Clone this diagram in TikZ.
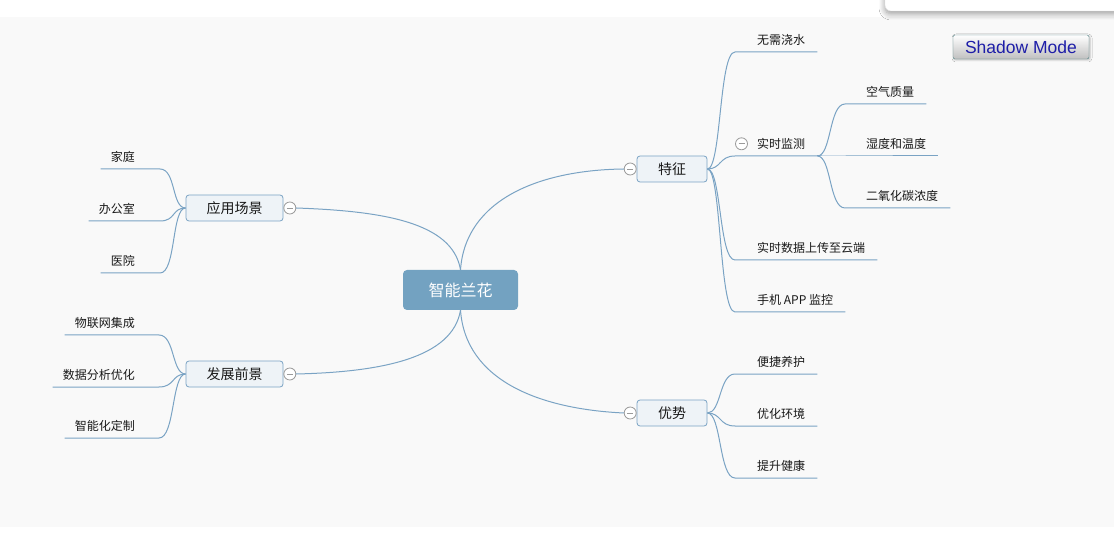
\documentclass[tikz,border=0pt]{standalone}
\usepackage{fontspec}
\newfontfamily\cjk{Noto Sans CJK SC}
\setsansfont{Liberation Sans}
\usetikzlibrary{positioning, shadows.blur}
\definecolor{mmline}{HTML}{7AA3C4}
\definecolor{mmcore}{HTML}{73A2C1}
\definecolor{mmpale}{HTML}{EEF3F7}
\definecolor{mmcanvas}{HTML}{F9F9F9}
\definecolor{mmfold}{HTML}{9A9A9A}
\definecolor{mmbtn}{HTML}{1E1EA8}
\definecolor{mmbtnrim}{HTML}{4E7F82}

\tikzset{
  edge/.style={mmline, line width=1pt},
  core/.style={fill=mmcore, rounded corners=4pt, minimum width=115pt, minimum height=40pt,
               text=white, font=\cjk\fontsize{16}{16}\selectfont},
  branch/.style={draw=mmline, fill=mmpale, rounded corners=3pt, line width=0.8pt,
                 minimum height=26pt, text=black!90, font=\cjk\fontsize{14}{14}\selectfont},
  fold/.style={circle, draw=mmfold, fill=white, line width=0.8pt, minimum size=12pt, inner sep=0pt,
               path picture={\draw[mmfold, line width=0.8pt]
                 ([xshift=3pt]path picture bounding box.west) -- ([xshift=-3pt]path picture bounding box.east);}},
  leafr/.style={anchor=south west, inner sep=0pt, text depth=7.5pt, text=black!90,
                font=\cjk\fontsize{12}{12}\selectfont},
  leafl/.style={leafr, anchor=south east},
  btn/.style={draw=mmbtnrim, rounded corners=2pt, top color=white, bottom color=black!25,
              minimum width=136pt, minimum height=24pt, inner sep=0pt, text=mmbtn,
              font=\sffamily\fontsize{17.5}{17.5}\selectfont},
}

\begin{document}
\begin{tikzpicture}[x=1pt, y=-1pt]
  \useasboundingbox (0,0) rectangle (1114,545);
  \fill[white] (0,0) rectangle (1114,545);
  \fill[mmcanvas] (0,17) rectangle (1114,527);
  % floating panel, top right
  \draw[black!10, fill=white, rounded corners=6pt,
        blur shadow={shadow xshift=0pt, shadow yshift=-3pt, shadow blur radius=6pt, shadow blur steps=10}]
    (885,-12) rectangle (1130,11);
  \node[btn, blur shadow={shadow xshift=1pt, shadow yshift=-1pt, shadow blur radius=2pt, shadow opacity=25}]
    (mode) at (1021,47) {Shadow Mode};

  % centre and main branches
  \node[core] (core) at (460.5,290) {智能兰花};
  \node[branch, minimum width=70pt] (tz) at (672,169) {特征};
  \node[branch, minimum width=70pt] (ys) at (672,413) {优势};
  \node[branch, minimum width=97pt] (yy) at (234.5,208) {应用场景};
  \node[branch, minimum width=97pt] (fz) at (234.5,374) {发展前景};
  \node[fold, left=0pt of tz] (tzf) {};
  \node[fold, left=0pt of ys] (ysf) {};
  \node[fold, right=0pt of yy] (yyf) {};
  \node[fold, right=0pt of fz] (fzf) {};

  \draw[edge] (core.north) .. controls +(5,-70) and +(-85,1) .. (tzf.west);
  \draw[edge] (core.south) .. controls +(5,70) and +(-85,-4) .. (ysf.west);
  \draw[edge] (yyf.east) .. controls +(85,3) and +(-8,-48) .. (core.north);
  \draw[edge] (fzf.east) .. controls +(85,-2) and +(-8,48) .. (core.south);

  % 特征
  \foreach \txt/\u [count=\i] in {无需浇水/52, 实时监测/156, 实时数据上传至云端/260, 手机 APP 监控/312} {
    \node[leafr] (tz\i) at (757,\u) {\txt};
    \draw[edge] (tz.east) .. controls +(14,0) and +(-16,0) .. ([xshift=-22pt]tz\i.south west)
      -- ([xshift=12pt]tz\i.south east) coordinate (tz\i tip);
  }
  \node[fold] (tz2f) at ([xshift=-15.5pt, yshift=4.5pt]tz2.base west) {};
  \foreach \txt/\u [count=\i] in {空气质量/104, 湿度和温度/156, 二氧化碳浓度/208} {
    \node[leafr] (jc\i) at (866,\u) {\txt};
    \draw[edge] (tz2tip) .. controls +(14,0) and +(-16,0) .. ([xshift=-21pt]jc\i.south west)
      -- ([xshift=12pt]jc\i.south east);
  }
  % 优势
  \foreach \txt/\u [count=\i] in {便捷养护/374, 优化环境/426, 提升健康/478} {
    \node[leafr] (ys\i) at (757,\u) {\txt};
    \draw[edge] (ys.east) .. controls +(14,0) and +(-16,0) .. ([xshift=-22pt]ys\i.south west)
      -- ([xshift=12pt]ys\i.south east);
  }
  % 应用场景
  \foreach \txt/\u [count=\i] in {家庭/169, 办公室/221, 医院/273} {
    \node[leafl] (yy\i) at (135,\u) {\txt};
    \draw[edge] (yy.west) .. controls +(-14,0) and +(16,0) .. ([xshift=25pt]yy\i.south east)
      -- ([xshift=-10pt]yy\i.south west);
  }
  % 发展前景
  \foreach \txt/\u [count=\i] in {物联网集成/335, 数据分析优化/387, 智能化定制/438} {
    \node[leafl] (fz\i) at (135,\u) {\txt};
    \draw[edge] (fz.west) .. controls +(-14,0) and +(16,0) .. ([xshift=24pt]fz\i.south east)
      -- ([xshift=-10pt]fz\i.south west);
  }
\end{tikzpicture}
\end{document}
